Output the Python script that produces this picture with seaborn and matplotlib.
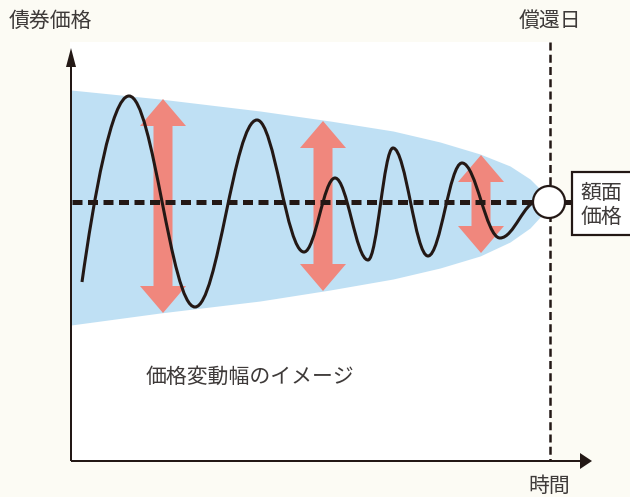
import matplotlib
matplotlib.use("Agg")
import matplotlib.pyplot as plt
import seaborn as sns
from matplotlib.path import Path
from matplotlib.patches import PathPatch, Circle, Rectangle

# Picture coordinates (x to the right, y downward)
# price swing envelope (upper and lower edge)
env_x = [71, 160, 260, 330, 393, 440, 480, 510, 530, 541, 546, 548]
env_top = [90, 99, 111, 121, 131, 142, 154, 166, 179, 190, 197, 202]
env_bottom = [325, 313, 301, 290, 279, 268, 256, 242, 228, 216, 208, 202]

# price path: start point, then alternating peaks / troughs, end at maturity
wave_x = [82, 129, 195, 257, 304, 335, 368, 393, 428, 462, 500, 538]
wave_y = [282, 96, 307, 120, 252, 178, 260, 148, 256, 163, 238, 201]

# swing arrows (x, top tip, bottom tip)
arrow_x = [163, 323, 481]
arrow_top = [99, 121, 155]
arrow_bottom = [313, 291, 253]

face_y = 202          # face value level
maturity_x = 549      # redemption date
origin = (71, 461)
y_axis_top = 48
x_axis_end = 592

labels = {
    "price": "債券価格",
    "maturity": "償還日",
    "time": "時間",
    "face": "額面\n価格",
    "note": "価格変動幅のイメージ",
}

ink = "#231815"
text_c = "#3e3a39"
blue = "#bfe0f4"
salmon = "#f0877d"
cream = "#fcfbf4"

sns.set_theme(style="white")
plt.rcParams["font.family"] = ["Noto Sans CJK JP", "DejaVu Sans"]

fig = plt.figure(figsize=(6.3, 4.97), dpi=100)
fig.patch.set_facecolor(cream)
ax = fig.add_axes([0, 0, 1, 1])
ax.set_xlim(0, 630)
ax.set_ylim(497, 0)
ax.axis("off")

# white plotting area
ax.add_patch(Rectangle((70, 42), maturity_x + 1 - 70, origin[1] - 42,
                       facecolor="white", edgecolor="none", zorder=0))

# envelope
ax.fill_between(env_x, env_top, env_bottom, color=blue, lw=0, zorder=1)

# double arrows
for x, t, b in zip(arrow_x, arrow_top, arrow_bottom):
    mid = (t + b) / 2
    for end in (t, b):
        ax.arrow(x, mid, 0, end - mid, width=19, head_width=46, head_length=27,
                 length_includes_head=True, color=salmon, lw=0, zorder=2)

# face value dashed line
sns.lineplot(x=[origin[0] + 1, maturity_x], y=[face_y, face_y], ax=ax,
             color=ink, lw=3.6, linestyle=(0, (2, 1.1)), zorder=3)

# maturity dashed line
ax.plot([maturity_x + 1, maturity_x + 1], [42, origin[1]], color=ink, lw=1.8,
        linestyle=(0, (3.2, 1.7)), zorder=3)

# price path as smooth bezier segments through the extrema
verts = [(wave_x[0], wave_y[0])]
codes = [Path.MOVETO]
for i in range(1, len(wave_x)):
    x0, y0 = wave_x[i - 1], wave_y[i - 1]
    x1, y1 = wave_x[i], wave_y[i]
    dx = x1 - x0
    if i == 1:
        c1 = (x0 + 0.25 * dx, y0 + 0.45 * (y1 - y0))
    else:
        c1 = (x0 + 0.37 * dx, y0)
    c2 = (x1 - 0.37 * dx, y1)
    verts += [c1, c2, (x1, y1)]
    codes += [Path.CURVE4] * 3
ax.add_patch(PathPatch(Path(verts, codes), facecolor="none", edgecolor=ink,
                       lw=2.2, zorder=4))

# face value circle, connector and label box
ax.plot([maturity_x + 14, 573], [face_y, face_y], color=ink, lw=3.6,
        solid_capstyle="butt", zorder=4)
ax.add_patch(Circle((maturity_x, face_y), 16, facecolor="white", edgecolor=ink,
                    lw=1.6, zorder=5))
ax.add_patch(Rectangle((572, 172), 80, 63, facecolor="white", edgecolor=ink,
                       lw=1.6, zorder=5, clip_on=False))
ax.text(601, 205, labels["face"], ha="center", va="center", fontsize=15,
        color=text_c, linespacing=1.1, zorder=6)

# axes with arrow heads
ax.arrow(origin[0], origin[1], 0, y_axis_top - origin[1], width=2, head_width=10,
         head_length=19, length_includes_head=True, color=ink, lw=0, zorder=6)
ax.arrow(origin[0], origin[1], x_axis_end - origin[0], 0, width=2, head_width=16,
         head_length=12, length_includes_head=True, color=ink, lw=0, zorder=6)

# labels
ax.text(9, 21, labels["price"], ha="left", va="center", fontsize=15, color=text_c)
ax.text(maturity_x + 1, 21, labels["maturity"], ha="center", va="center",
        fontsize=15, color=text_c)
ax.text(maturity_x, 486, labels["time"], ha="center", va="center", fontsize=15,
        color=text_c)
ax.text(250, 377, labels["note"], ha="center", va="center", fontsize=15,
        color=text_c)

plt.savefig("out.png", dpi=100, facecolor=fig.get_facecolor())
